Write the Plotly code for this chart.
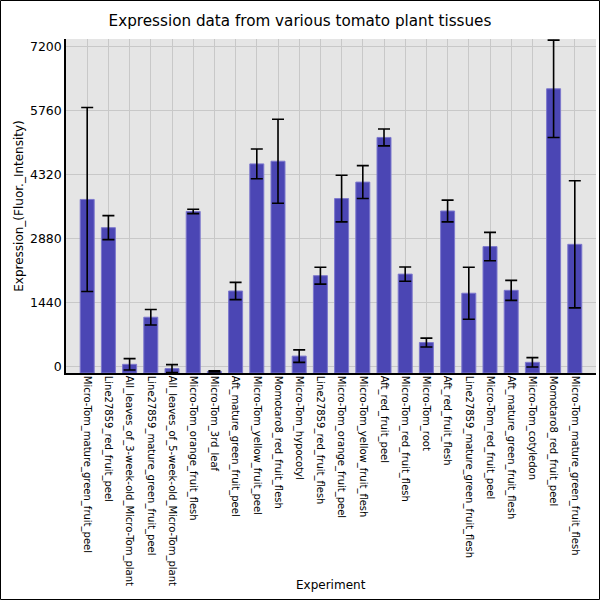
import plotly.graph_objects as go

categories = [
    "Micro-Tom_mature_green_fruit_peel",
    "Line27859_red_fruit_peel",
    "All_leaves_of_3-week-old_Micro-Tom_plant",
    "Line27859_mature_green_fruit_peel",
    "All_leaves_of_5-week-old_Micro-Tom_plant",
    "Micro-Tom_orange_fruit_flesh",
    "Micro-Tom_3rd_leaf",
    "Aft_mature_green_fruit_peel",
    "Micro-Tom_yellow_fruit_peel",
    "Momotaro8_red_fruit_flesh",
    "Micro-Tom_hypocotyl",
    "Line27859_red_fruit_flesh",
    "Micro-Tom_orange_fruit_peel",
    "Micro-Tom_yellow_fruit_flesh",
    "Aft_red_fruit_peel",
    "Micro-Tom_red_fruit_flesh",
    "Micro-Tom_root",
    "Aft_red_fruit_flesh",
    "Line27859_mature_green_fruit_flesh",
    "Micro-Tom_red_fruit_peel",
    "Aft_mature_green_fruit_flesh",
    "Micro-Tom_cotyledon",
    "Momotaro8_red_fruit_peel",
    "Micro-Tom_mature_green_fruit_flesh",
]
values = [3760, 3125, 50, 1110, -45, 3490, -110, 1700, 4560, 4620,
          235, 2045, 3780, 4150, 5155, 2080, 540, 3500, 1650, 2700,
          1715, 95, 6250, 2750]
errors = [2070, 270, 128, 175, 88, 50, 12, 195, 335, 945,
          140, 190, 525, 370, 190, 160, 100, 245, 585, 320,
          225, 105, 1095, 1430]
y_ticks = [0, 1440, 2880, 4320, 5760, 7200]

BASE = -145
Y_TOP = 7370

L, R, T, B = 66, 4, 39, 227
W = H = 600
pw = W - L - R
ph = H - T - B

fig = go.Figure()
fig.add_trace(go.Bar(
    x=categories,
    y=[v - BASE for v in values],
    base=BASE,
    width=0.66,
    marker=dict(color="rgb(75,70,180)", line=dict(color="rgb(125,120,205)", width=1)),
    error_y=dict(type="data", array=errors, color="black", thickness=1.6, width=6),
))

fig.update_layout(
    width=W, height=H,
    margin=dict(l=L, r=R, t=T, b=B, autoexpand=False),
    paper_bgcolor="white",
    plot_bgcolor="#E5E5E5",
    font=dict(family="DejaVu Sans", color="black"),
    title=dict(text="Expression data from various tomato plant tissues",
               x=0.5, xref="container", xanchor="center", y=1 - 21 / H, yanchor="middle",
               font=dict(size=15.2, family="DejaVu Sans")),
    showlegend=False,
)
fig.update_xaxes(
    type="category",
    range=[-1, len(categories)],
    tickangle=90,
    tickfont=dict(size=10, family="DejaVu Sans"),
    showgrid=True, gridcolor="#C8C8C8", gridwidth=1,
    showline=True, linecolor="black", linewidth=1.5,
    ticks="",
    ticklabelstandoff=-1,
    automargin=False,
)
fig.update_yaxes(
    range=[BASE, Y_TOP],
    tickvals=y_ticks,
    ticktext=[str(t) for t in y_ticks],
    tickfont=dict(size=12.5, family="DejaVu Sans"),
    showgrid=True, gridcolor="#C8C8C8", gridwidth=1,
    zeroline=False,
    showline=True, linecolor="black", linewidth=1.5,
    ticks="",
    automargin=False,
    title=dict(text="Expression_(Fluor._Intensity)", font=dict(size=12), standoff=4),
)
fig.add_annotation(text="Experiment", xref="paper", yref="paper",
                   x=0.5, y=-(585 - (H - B)) / ph, xanchor="center", yanchor="middle",
                   showarrow=False, font=dict(size=12, family="DejaVu Sans"))
fig.add_shape(type="rect", xref="paper", yref="paper",
              x0=-(L - 0.5) / pw, x1=1 + (R - 0.5) / pw,
              y0=-(B - 0.5) / ph, y1=1 + (T - 0.5) / ph,
              line=dict(color="black", width=1), layer="above")

fig.write_html("out.html", config={"displayModeBar": False},
               post_script="document.body.style.margin='0';")
